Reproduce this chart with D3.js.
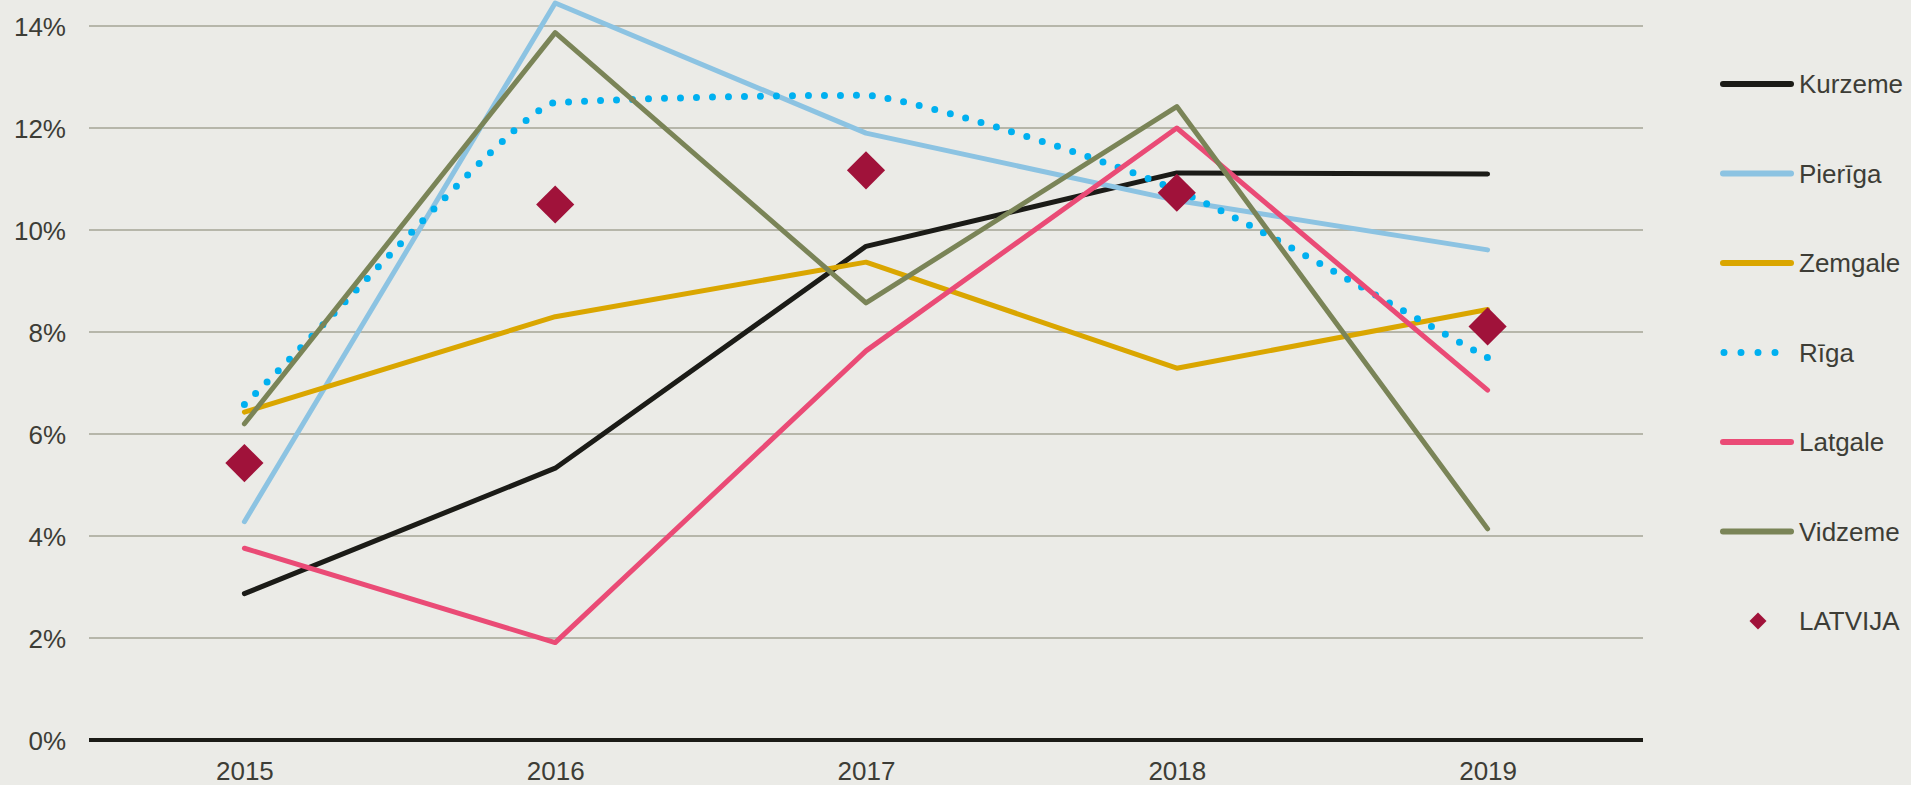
<!DOCTYPE html>
<meta charset="utf-8" />
<style>
  body { margin: 0; background: #ebebe7; }
  svg { display: block; font-family: "Liberation Sans", Arial, sans-serif; }
  .tick text { fill: #3d3d36; font-size: 26px; }
  .legend text { fill: #3d3d36; font-size: 26px; }
</style>
<body>
<script src="https://d3js.org/d3.v7.min.js"></script>
<script>
  // data (percent)
  var years = ["2015", "2016", "2017", "2018", "2019"];
  var yTicks = [0, 2, 4, 6, 8, 10, 12, 14];

  var kurzeme = [2.87, 5.33, 9.68, 11.12, 11.10];
  var pieriga = [4.28, 14.45, 11.90, 10.58, 9.61];
  var zemgale = [6.43, 8.30, 9.37, 7.29, 8.44];
  var riga    = [6.58, 12.50, 12.64, 10.78, 7.50];
  var latgale = [3.76, 1.91, 7.63, 12.00, 6.86];
  var vidzeme = [6.20, 13.87, 8.57, 12.42, 4.14];
  var latvija = [5.43, 10.50, 11.17, 10.73, 8.11];

  var series = [
    { name: "Kurzeme", values: kurzeme, color: "#1b1b17" },
    { name: "Pierīga", values: pieriga, color: "#8cc3e2" },
    { name: "Zemgale", values: zemgale, color: "#daa600" },
    { name: "Rīga",    values: riga,    color: "#00b0f0", dotted: true },
    { name: "Latgale", values: latgale, color: "#ea4b76" },
    { name: "Vidzeme", values: vidzeme, color: "#7a8457" }
  ];
  var markerColor = "#a0123a";

  var W = 1911, H = 785;
  var margin = { top: 26, left: 89, right: 268, bottom: 45 };
  var width = W - margin.left - margin.right,   // 1554
      height = H - margin.top - margin.bottom;  // 714

  // smoothed line like the spreadsheet one: flat at turning points,
  // end segments leave along the chord, short handles where it turns hard
  function smoothCurve(context) {
    var xs, ys;
    return {
      areaStart: function () {}, areaEnd: function () {},
      lineStart: function () { xs = []; ys = []; },
      point: function (px, py) { xs.push(+px); ys.push(+py); },
      lineEnd: function () {
        var n = xs.length, s = [], m = [], i;
        if (!n) return;
        for (i = 0; i < n - 1; i++) s[i] = (ys[i + 1] - ys[i]) / (xs[i + 1] - xs[i]);
        m[0] = s[0]; m[n - 1] = s[n - 2];
        for (i = 1; i < n - 1; i++) {
          var h0 = xs[i] - xs[i - 1], h1 = xs[i + 1] - xs[i],
              p = (s[i - 1] * h1 + s[i] * h0) / (h0 + h1);
          m[i] = (Math.sign(s[i - 1]) + Math.sign(s[i])) *
            Math.min(Math.abs(s[i - 1]), Math.abs(s[i]), 0.5 * Math.abs(p)) || 0;
        }
        function k(mi, si) {
          if (Math.abs(si) < 0.05) return 1;
          return Math.max(0.3, Math.min(1, Math.abs(mi) / Math.abs(si)));
        }
        context.moveTo(xs[0], ys[0]);
        for (i = 0; i < n - 1; i++) {
          var a = (xs[i + 1] - xs[i]) / 3 * k(m[i], s[i]),
              b = (xs[i + 1] - xs[i]) / 3 * k(m[i + 1], s[i]);
          context.bezierCurveTo(xs[i] + a, ys[i] + a * m[i],
            xs[i + 1] - b, ys[i + 1] - b * m[i + 1], xs[i + 1], ys[i + 1]);
        }
      }
    };
  }

  var svg = d3.select("body").append("svg")
    .attr("width", W).attr("height", H);

  var g = svg.append("g")
    .attr("transform", "translate(" + margin.left + "," + margin.top + ")");

  var x = d3.scalePoint().domain(years).range([0, width]).padding(0.5);
  var y = d3.scaleLinear().domain([0, 14]).range([height, 0]);

  // gridlines
  g.selectAll(".grid")
    .data(yTicks.filter(function (d) { return d > 0; }))
    .enter().append("line")
    .attr("x1", 0).attr("x2", width)
    .attr("y1", function (d) { return y(d); })
    .attr("y2", function (d) { return y(d); })
    .attr("stroke", "#b6b6aa")
    .attr("stroke-width", 2);

  // y axis labels
  var yAxis = g.append("g")
    .call(d3.axisLeft(y).tickValues(yTicks).tickSize(0).tickPadding(23)
      .tickFormat(function (d) { return d + "%"; }));
  yAxis.select(".domain").remove();
  yAxis.selectAll("text").attr("dy", "0.36em");

  // x axis labels
  var xAxis = g.append("g")
    .attr("transform", "translate(0," + height + ")")
    .call(d3.axisBottom(x).tickSize(0).tickPadding(22));
  xAxis.select(".domain").remove();

  // zero line
  g.append("line")
    .attr("x1", 0).attr("x2", width)
    .attr("y1", y(0)).attr("y2", y(0))
    .attr("stroke", "#1b1b17")
    .attr("stroke-width", 4);

  var line = d3.line()
    .x(function (d, i) { return x(years[i]); })
    .y(function (d) { return y(d); });

  var smooth = d3.line()
    .x(function (d, i) { return x(years[i]); })
    .y(function (d) { return y(d); })
    .curve(smoothCurve);

  series.forEach(function (s) {
    var p = g.append("path")
      .attr("d", s.dotted ? smooth(s.values) : line(s.values))
      .attr("fill", "none")
      .attr("stroke", s.color)
      .attr("stroke-linecap", "round")
      .attr("stroke-linejoin", "round");
    if (s.dotted) {
      p.attr("stroke-width", 7).attr("stroke-dasharray", "0,16");
    } else {
      p.attr("stroke-width", 5);
    }
  });

  g.selectAll(".lv")
    .data(latvija)
    .enter().append("path")
    .attr("d", d3.symbol().type(d3.symbolSquare).size(27 * 27))
    .attr("transform", function (d, i) {
      return "translate(" + x(years[i]) + "," + y(d) + ") rotate(45)";
    })
    .attr("fill", markerColor);

  // legend
  var legend = svg.append("g").attr("class", "legend");
  var rowY = d3.scaleLinear().domain([0, 6]).range([84, 621]);

  series.forEach(function (s, i) {
    var r = legend.append("g").attr("transform", "translate(0," + rowY(i) + ")");
    var l = r.append("line")
      .attr("x1", 1723).attr("x2", 1791)
      .attr("stroke", s.color)
      .attr("stroke-linecap", "round");
    if (s.dotted) {
      l.attr("x1", 1724).attr("x2", 1792)
        .attr("stroke-width", 7).attr("stroke-dasharray", "0,17");
    } else {
      l.attr("stroke-width", 6);
    }
    r.append("text").attr("x", 1799).attr("dy", "0.36em").text(s.name);
  });

  var lr = legend.append("g").attr("transform", "translate(0," + rowY(6) + ")");
  lr.append("path")
    .attr("d", d3.symbol().type(d3.symbolSquare).size(12 * 12))
    .attr("transform", "translate(1758,0) rotate(45)")
    .attr("fill", markerColor);
  lr.append("text").attr("x", 1799).attr("dy", "0.36em").text("LATVIJA");
</script>
</body>
